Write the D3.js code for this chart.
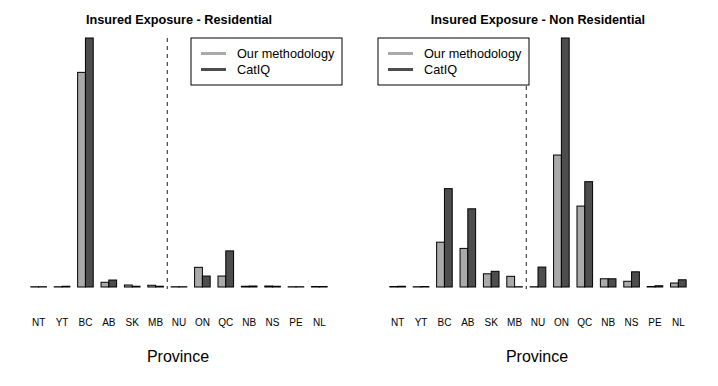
<!DOCTYPE html>
<html>
<head>
<meta charset="utf-8">
<script src="https://cdn.jsdelivr.net/npm/d3@7"></script>
<style>
  html, body { margin: 0; padding: 0; background: #fff; }
  svg { display: block; font-family: "Liberation Sans", Arial, Helvetica, sans-serif; }
</style>
</head>
<body>
<svg id="chart" width="718" height="386"></svg>
<script>
// Provinces (x categories)
const provinces = ["NT","YT","BC","AB","SK","MB","NU","ON","QC","NB","NS","PE","NL"];
// Series names
const seriesNames = ["Our methodology", "CatIQ"];
// Residential panel (relative exposure, max = 100)
const resOurs  = [0.1, 0.1, 86.2, 1.9, 0.8, 0.7, 0.1, 7.9, 4.4, 0.3, 0.4, 0.1, 0.2];
const resCatIQ = [0.1, 0.3, 100, 2.8, 0.3, 0.3, 0.1, 4.4, 14.5, 0.4, 0.3, 0.1, 0.2];
// Non residential panel (relative exposure, max = 100)
const nonOurs  = [0.2, 0.1, 18.0, 15.5, 5.3, 4.3, 0.1, 53.0, 32.5, 3.3, 2.3, 0.2, 1.6];
const nonCatIQ = [0.3, 0.2, 39.5, 31.4, 6.3, 0.1, 8.0, 100, 42.3, 3.3, 6.1, 0.5, 2.9];
// Panel titles
const titles = ["Insured Exposure - Residential", "Insured Exposure - Non Residential"];
const xLabel = "Province";
const colors = ["#aaaaaa", "#4d4d4d"];

const svg = d3.select("#chart");
const panelW = 359;
const plotTop = 38, plotBottom = 287;

const panels = [
  { title: titles[0], series: [resOurs, resCatIQ], legendX: 191 },
  { title: titles[1], series: [nonOurs, nonCatIQ], legendX: 378 - panelW }
];

panels.forEach((p, pi) => {
  const g = svg.append("g").attr("transform", `translate(${pi * panelW},0)`);
  // R-style barplot units: groups [1+3i, 3+3i], 4% expansion
  const x = d3.scaleLinear().domain([-0.52, 40.52]).range([19, 339]);
  const maxV = d3.max(p.series.flat());
  const y = d3.scaleLinear().domain([0, maxV]).range([plotBottom, plotTop]);

  const rows = [];
  provinces.forEach((prov, i) => {
    p.series.forEach((s, si) => {
      rows.push({ prov, i, si, v: s[i] });
    });
  });

  g.selectAll("rect.bar").data(rows).join("rect")
    .attr("class", "bar")
    .attr("x", d => x(1 + 3 * d.i + d.si))
    .attr("width", d => x(2 + 3 * d.i + d.si) - x(1 + 3 * d.i + d.si))
    .attr("y", d => y(d.v))
    .attr("height", d => Math.max(0, y(0) - y(d.v)))
    .attr("fill", d => colors[d.si])
    .attr("stroke", "#000")
    .attr("stroke-width", 1);

  // Tick labels
  g.selectAll("text.tick").data(provinces).join("text")
    .attr("class", "tick")
    .attr("x", (d, i) => x(2 + 3 * i))
    .attr("y", 325.5)
    .attr("text-anchor", "middle")
    .attr("font-size", "10px")
    .attr("fill", "#000")
    .text(d => d);

  // Dashed separator between MB and NU
  const sepX = x(18.5);
  g.append("line")
    .attr("x1", sepX).attr("x2", sepX)
    .attr("y1", plotTop).attr("y2", plotBottom + 2)
    .attr("stroke", "#444")
    .attr("stroke-width", 1.2)
    .attr("stroke-dasharray", "4,4");

  // Title
  g.append("text")
    .attr("x", x(20))
    .attr("y", 24)
    .attr("text-anchor", "middle")
    .attr("font-size", "12.7px")
    .attr("font-weight", "bold")
    .text(p.title);

  // X axis label
  g.append("text")
    .attr("x", x(20) - 1)
    .attr("y", 362)
    .attr("text-anchor", "middle")
    .attr("font-size", "16px")
    .text(xLabel);

  // Legend
  const lg = g.append("g").attr("transform", `translate(${p.legendX},${plotTop})`);
  lg.append("rect")
    .attr("x", 0).attr("y", 0)
    .attr("width", 151).attr("height", 47)
    .attr("fill", "#fff")
    .attr("stroke", "#000")
    .attr("stroke-width", 1);
  seriesNames.forEach((name, si) => {
    const ly = 15.5 + si * 16;
    lg.append("line")
      .attr("x1", 10).attr("x2", 35)
      .attr("y1", ly).attr("y2", ly)
      .attr("stroke", colors[si])
      .attr("stroke-width", 3);
    lg.append("text")
      .attr("x", 46).attr("y", ly + 4.5)
      .attr("font-size", "12.7px")
      .text(name);
  });
});
</script>
</body>
</html>
